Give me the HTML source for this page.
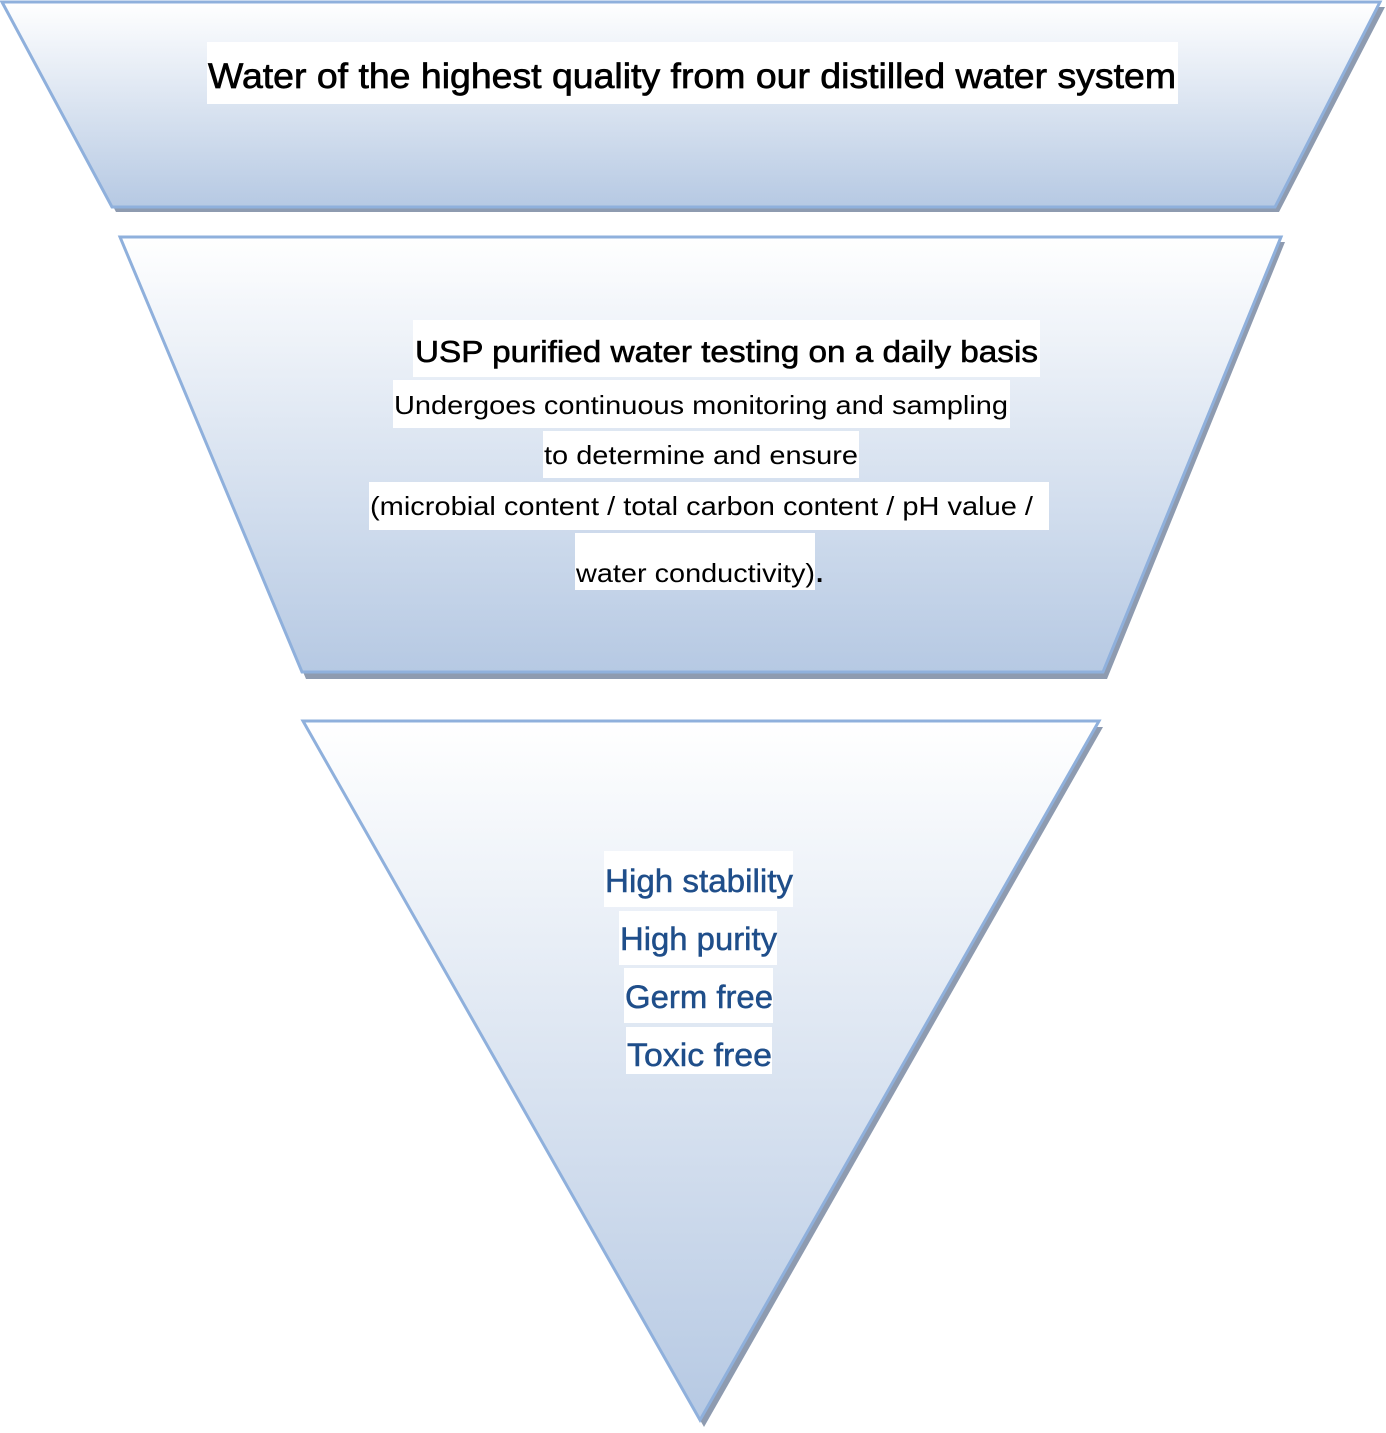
<!DOCTYPE html>
<html><head><meta charset="utf-8"><style>
html,body{margin:0;padding:0;background:#fff;}
svg{display:block;}
text{font-family:"Liberation Sans",Arial,sans-serif;}
</style></head><body>
<svg width="1386" height="1433" viewBox="0 0 1386 1433" xmlns="http://www.w3.org/2000/svg">
<defs>
<linearGradient id="g" x1="0" y1="0" x2="0" y2="1">
<stop offset="0" stop-color="#ffffff"/>
<stop offset="1" stop-color="#b6c9e3"/>
</linearGradient>
</defs>
<polygon points="7,7 1385,7 1279,212 116,212" fill="#8e9bb0"/>
<polygon points="125,242 1285,242 1107,679 306,679" fill="#8e9bb0"/>
<polygon points="308,727 1103,727 704,1427" fill="#8e9bb0"/>
<polygon points="2,2 1380,2 1275,207 112,207" fill="url(#g)" stroke="#8fb0dc" stroke-width="3"/>
<polygon points="120,237 1281,237 1103,672 302,672" fill="url(#g)" stroke="#8fb0dc" stroke-width="3"/>
<polygon points="303,721 1099,721 700,1420" fill="url(#g)" stroke="#8fb0dc" stroke-width="3"/>
<g fill="#fff">
<rect x="207" y="42" width="971" height="62"/>
<rect x="413" y="320" width="627" height="57"/>
<rect x="393" y="380" width="617" height="48"/>
<rect x="543" y="431" width="316" height="47"/>
<rect x="369" y="482" width="680" height="48"/>
<rect x="575" y="533" width="240" height="57"/>
<rect x="604" y="851" width="189" height="56"/>
<rect x="619" y="911" width="158" height="54"/>
<rect x="624" y="968" width="149" height="55"/>
<rect x="626" y="1027" width="146" height="47"/>
</g>
<g fill="#000">
<text x="208" y="88" font-size="35" textLength="968" lengthAdjust="spacingAndGlyphs" stroke="#000" stroke-width="0.7">Water of the highest quality from our distilled water system</text>
<text x="415" y="362" font-size="31" textLength="623" lengthAdjust="spacingAndGlyphs" stroke="#000" stroke-width="0.6">USP purified water testing on a daily basis</text>
<text x="394" y="414" font-size="26" textLength="614" lengthAdjust="spacingAndGlyphs">Undergoes continuous monitoring and sampling</text>
<text x="544" y="464" font-size="26" textLength="314" lengthAdjust="spacingAndGlyphs">to determine and ensure</text>
<text x="370" y="515" font-size="26" textLength="663" lengthAdjust="spacingAndGlyphs">(microbial content / total carbon content / pH value /</text>
<text x="576" y="582" font-size="26" textLength="239" lengthAdjust="spacingAndGlyphs">water conductivity)</text>
<text x="816" y="582" font-size="26" font-weight="bold">.</text>
</g>
<g fill="#1f4e8a" font-size="32" stroke="#1f4e8a" stroke-width="0.5">
<text x="605" y="892" textLength="188" lengthAdjust="spacingAndGlyphs">High stability</text>
<text x="620" y="950" textLength="157" lengthAdjust="spacingAndGlyphs">High purity</text>
<text x="625" y="1008" textLength="148" lengthAdjust="spacingAndGlyphs">Germ free</text>
<text x="627" y="1066" textLength="145" lengthAdjust="spacingAndGlyphs">Toxic free</text>
</g>
</svg>
</body></html>
